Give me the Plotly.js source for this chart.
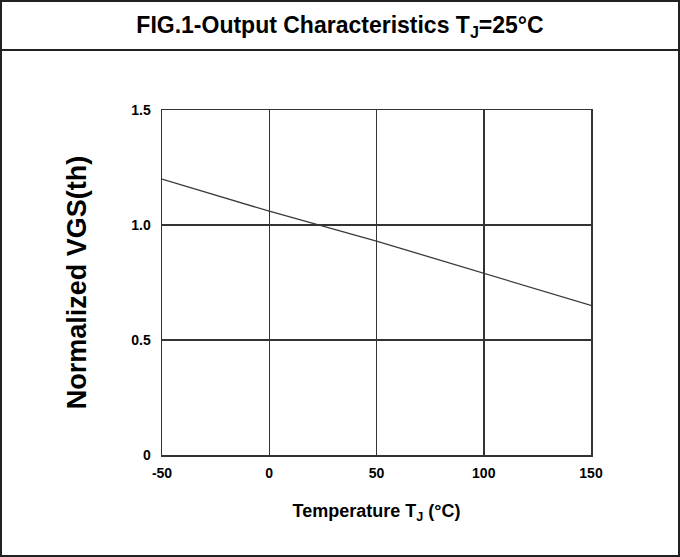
<!DOCTYPE html>
<html>
<head>
<meta charset="utf-8">
<script src="https://cdn.plot.ly/plotly-3.0.1.min.js"></script>
<style>
html,body{margin:0;padding:0;background:#fff;}
#chart{width:680px;height:557px;}
</style>
</head>
<body>
<div id="chart"></div>
<script>
const temperature = [-50, 0, 50, 100, 150];
const normalizedVgs = [1.2, 1.06, 0.93, 0.79, 0.65];
const xTicks = [-50, 0, 50, 100, 150];
const xTickLabels = ['-50', '0', '50', '100', '150'];
const yTicks = [0, 0.5, 1.0, 1.5];
const yTickLabels = ['0', '0.5', '1.0', '1.5'];

const L = 162, R = 591, T = 110, B = 455, W = 680, H = 557;
const px = v => (v - L) / (R - L);
const py = v => (B - v) / (B - T);

const trace = {
  x: temperature, y: normalizedVgs, type: 'scatter', mode: 'lines',
  line: {color: '#3a3a3a', width: 1.3}, hoverinfo: 'skip'
};

const font = {family: 'Liberation Sans, Arial, sans-serif', color: '#000'};
const bold = arr => arr.map(s => '<b>' + s + '</b>');

const layout = {
  width: W, height: H,
  margin: {l: L, r: W - R, t: T, b: H - B, pad: 0},
  paper_bgcolor: '#fff', plot_bgcolor: '#fff',
  showlegend: false,
  title: {
    text: '<b>FIG.1-Output Characteristics T<sub>J</sub>=25°C</b>',
    font: Object.assign({size: 23}, font),
    x: 0.5, xref: 'container', xanchor: 'center',
    y: 1 - 25 / H, yref: 'container', yanchor: 'middle'
  },
  xaxis: {
    range: [-50, 150], tickmode: 'array', tickvals: xTicks, ticktext: bold(xTickLabels),
    showgrid: true, gridcolor: '#333', gridwidth: 1.5,
    showline: true, linecolor: '#333', linewidth: 1.5, mirror: true,
    zeroline: false, ticks: '', ticklabelstandoff: 5,
    tickfont: Object.assign({size: 14}, font),
    title: {text: '<b>Temperature T<sub>J</sub> (°C)</b>', font: Object.assign({size: 18}, font), standoff: 24}
  },
  yaxis: {
    range: [0, 1.5], tickmode: 'array', tickvals: yTicks, ticktext: bold(yTickLabels),
    showgrid: true, gridcolor: '#333', gridwidth: 1.5,
    showline: true, linecolor: '#333', linewidth: 1.5, mirror: true,
    zeroline: false, ticks: '', ticklabelstandoff: 7,
    tickfont: Object.assign({size: 14}, font),
    title: {text: '<b>Normalized VGS(th)</b>', font: Object.assign({size: 27}, font), standoff: 37}
  },
  shapes: [
    {type: 'rect', xref: 'paper', yref: 'paper', x0: px(1), x1: px(W - 1), y0: py(H - 1), y1: py(1),
     line: {color: '#222', width: 2}, layer: 'above'},
    {type: 'line', xref: 'paper', yref: 'paper', x0: px(1), x1: px(W - 1), y0: py(50), y1: py(50),
     line: {color: '#222', width: 2}, layer: 'above'}
  ]
};

Plotly.newPlot('chart', [trace], layout, {displayModeBar: false, staticPlot: true});
</script>
</body>
</html>
